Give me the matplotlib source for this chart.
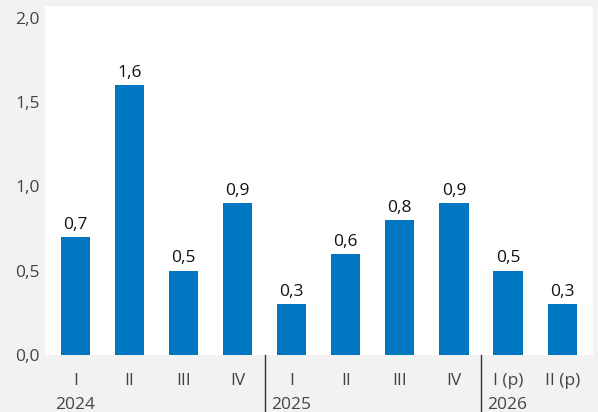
import matplotlib.pyplot as plt

quarters = ["I", "II", "III", "IV", "I", "II", "III", "IV", "I (p)", "II (p)"]
values = [0.7, 1.6, 0.5, 0.9, 0.3, 0.6, 0.8, 0.9, 0.5, 0.3]
years = ["2024", "2025", "2026"]
year_start = [0, 4, 8]

bar_color = "#0077c0"
bg = "#f2f2f2"
font = "Open Sans"

fig = plt.figure(figsize=(5.98, 4.12), dpi=100, facecolor=bg)
ax = fig.add_axes([45 / 598, 57 / 412, 548 / 598, 349 / 412])
ax.set_facecolor("white")

x = list(range(len(values)))
ax.bar(x, values, width=0.54, color=bar_color, zorder=2)

for xi, v in zip(x, values):
    ax.text(xi, v + 0.025, f"{v:.1f}".replace(".", ","), ha="center", va="bottom",
            fontsize=12.5, color="#111111", family=font)

ax.set_xlim(-0.56, 9.57)
ax.set_ylim(0, 2.07)
yt = [0, 0.5, 1.0, 1.5, 2.0]
ax.set_yticks(yt)
ax.set_yticklabels([f"{t:.1f}".replace(".", ",") for t in yt],
                   fontsize=12.5, color="#444444", family=font)
ax.tick_params(axis="y", length=0, pad=4)
ax.set_xticks(x)
ax.set_xticklabels(quarters, fontsize=12.5, color="#444444", family=font)
ax.tick_params(axis="x", length=0, pad=13)

for s in ax.spines.values():
    s.set_visible(False)

for yr, st in zip(years, year_start):
    ax.text(st - 0.38, -0.295, yr, ha="left", va="center", fontsize=12.5,
            color="#444444", family=font, clip_on=False)

for st in year_start[1:]:
    ax.plot([st - 0.5, st - 0.5], [0, -0.36], color="#333333", lw=1,
            clip_on=False, zorder=3)

plt.savefig("out.png", dpi=100, facecolor=bg)
